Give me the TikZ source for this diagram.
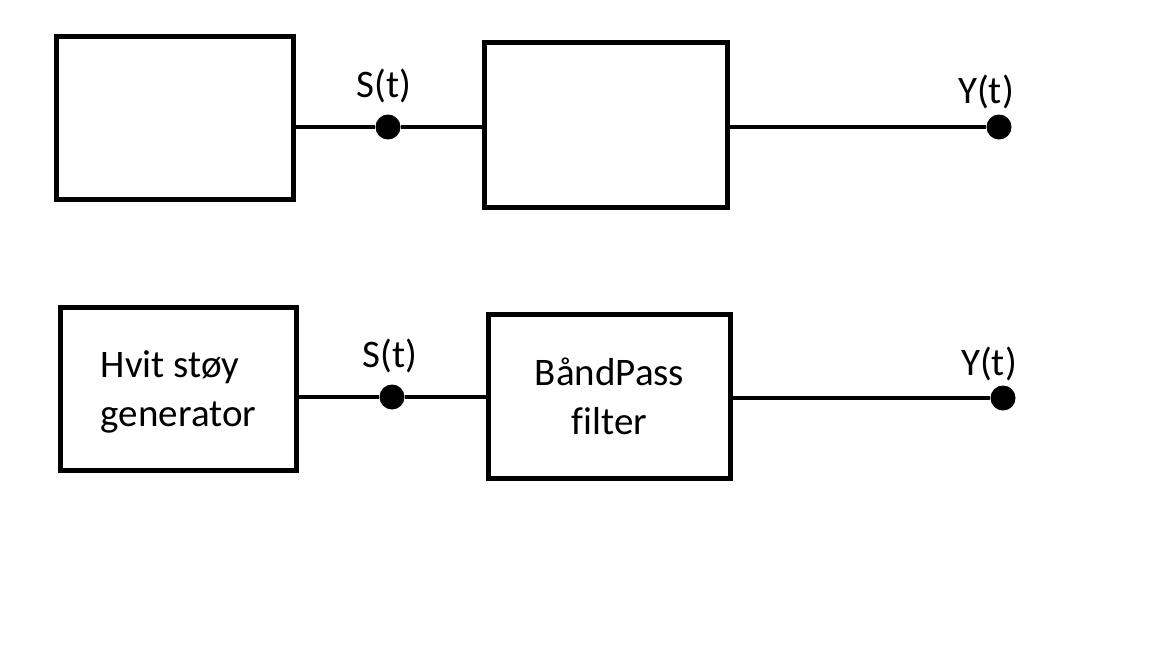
\documentclass[tikz,border=0pt]{standalone}
\usepackage{fontspec}
\setmainfont{Carlito}[Ligatures=CommonOff]
\usepackage{tikz}
\usetikzlibrary{positioning,calc}

\begin{document}
\begin{tikzpicture}[
  x=1pt, y=-1pt,
  font=\fontsize{39}{49}\selectfont,
  box/.style={draw, line width=4.5pt, inner sep=0pt, align=left},
  dot/.style={circle, fill=black, inner sep=0pt, minimum size=25pt},
  wire/.style={line width=4.5pt},
  lbl/.style={anchor=base, inner sep=0pt}
]
\useasboundingbox (0,0) rectangle (1152,648);

% top row, empty blocks
\node[box, minimum width=237pt, minimum height=163pt] (src) at (175,118) {};
\node[box, minimum width=243pt, minimum height=165pt] (flt) at (606,125) {};
\node[dot] (sdot) at (388,127) {};
\node[dot] (ydot) at (999,127) {};
\node[lbl] (slbl) at (384,97) {S(t)};
\node[lbl] (ylbl) at (986,103) {Y(t)};

\draw[wire] (sdot -| src.east) -- (sdot) -- (sdot -| flt.west);
\draw[wire] (ydot -| flt.east) -- (ydot);

% bottom row, labelled blocks
\node[box, minimum width=236pt, minimum height=163pt, text depth=0pt] (gen) at (178.5,389) {Hvit støy\\generator};
\node[box, minimum width=242pt, minimum height=164pt, align=center] (bp) at (609.5,396.5) {BåndPass\\filter};
\node[dot] (sdot2) at (392,397) {};
\node[dot] (ydot2) at (1003,398) {};
\node[lbl] (slbl2) at (390,367) {S(t)};
\node[lbl] (ylbl2) at (989,375) {Y(t)};

\draw[wire] (sdot2 -| gen.east) -- (sdot2) -- (sdot2 -| bp.west);
\draw[wire] (ydot2 -| bp.east) -- (ydot2);
\end{tikzpicture}
\end{document}
